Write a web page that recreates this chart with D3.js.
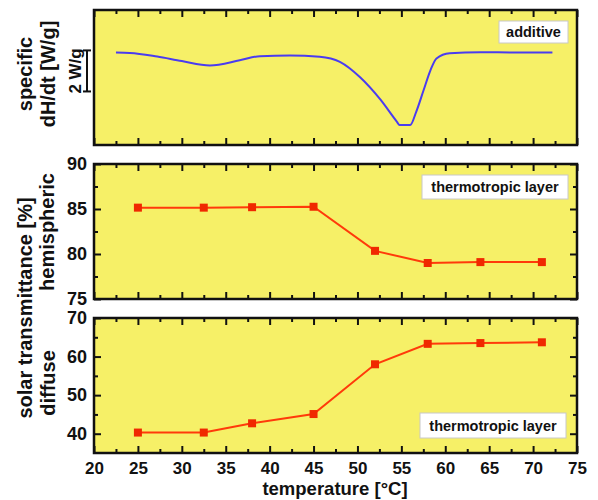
<!DOCTYPE html>
<html><head><meta charset="utf-8">
<script src="https://cdn.jsdelivr.net/npm/d3@7"></script>
<style>
html,body{margin:0;padding:0;background:#fff;}
text{font-family:"Liberation Sans",Arial,Helvetica,sans-serif;font-weight:bold;fill:#111;}
</style></head>
<body><svg id="c" width="598" height="500"></svg>
<script>
// ---- data ----
const xTicks = [20,25,30,35,40,45,50,55,60,65,70,75];
const temps = [25, 32.5, 38, 45, 52, 58, 64, 71];
const hemispheric = [85.15, 85.15, 85.2, 85.25, 80.35, 79.0, 79.1, 79.1];
const diffuse = [40.3, 40.3, 42.7, 45.1, 58.0, 63.3, 63.5, 63.7];
const hemiTicks = [75, 80, 85, 90];
const diffTicks = [40, 50, 60, 70];
const dscT = [22.5, 24.1, 27.2, 30, 33.2, 36.6, 38.9, 42.3, 45.7, 48.0, 50.3, 52.6, 54.5, 54.8, 56.0, 56.7, 57.5, 58.3, 59.0, 60.5, 64.0, 68, 72.2];
const dscV = [0, -0.02, -0.2, -0.42, -0.63, -0.38, -0.18, -0.15, -0.21, -0.46, -1.21, -2.29, -3.38, -3.54, -3.54, -2.88, -1.88, -0.88, -0.29, -0.04, 0.01, 0.0, 0.0];
const scaleBar = [0.1, -1.9]; // 2 W/g

const svg = d3.select("#c");
const L = 94, R = 577;
const x = d3.scaleLinear([20, 75], [L, R]);
const panels = [
  {top: 10, bottom: 145},
  {top: 164, bottom: 299},
  {top: 318, bottom: 453}
];
const y1 = d3.scaleLinear([-4.51, 2.07], [panels[0].bottom, panels[0].top]);
const y2 = d3.scaleLinear([75, 90], [panels[1].bottom, panels[1].top]);
const y3 = d3.scaleLinear([35, 70], [panels[2].bottom, panels[2].top]);

const YEL = "#f6f067";
const xMinor = d3.range(22.5, 75, 5);

function frame(p, yScale, yMaj, yMin, withY, lastX) {
  svg.append("rect").attr("x", L).attr("y", p.top).attr("width", R - L).attr("height", p.bottom - p.top).attr("fill", YEL);
  const tick = (g) => { g.select(".domain").remove(); g.selectAll("line").attr("stroke", "#111").attr("stroke-width", 2); };
  svg.append("g").attr("transform", `translate(0,${p.top})`).call(d3.axisTop(x).tickValues(xTicks).tickSize(-7).tickFormat("")).call(tick);
  svg.append("g").attr("transform", `translate(0,${p.top})`).call(d3.axisTop(x).tickValues(xMinor).tickSize(-4).tickFormat("")).call(tick);
  const bax = svg.append("g").attr("transform", `translate(0,${p.bottom})`).call(d3.axisBottom(x).tickValues(xTicks).tickSize(-7).tickPadding(9).tickFormat(lastX ? d3.format("d") : ""));
  bax.call(tick);
  bax.selectAll("text").attr("font-size", 17).style("font-family", "Liberation Sans, Arial, sans-serif").style("font-weight", "bold").attr("fill", "#111");
  svg.append("g").attr("transform", `translate(0,${p.bottom})`).call(d3.axisBottom(x).tickValues(xMinor).tickSize(-4).tickFormat("")).call(tick);
  if (withY) {
    const la = svg.append("g").attr("transform", `translate(${L},0)`).call(d3.axisLeft(yScale).tickValues(yMaj).tickSize(-7).tickPadding(7).tickFormat(d3.format("d")));
    la.call(tick);
    la.selectAll("text").attr("font-size", 18).style("font-family", "Liberation Sans, Arial, sans-serif").style("font-weight", "bold").attr("fill", "#111");
    svg.append("g").attr("transform", `translate(${L},0)`).call(d3.axisLeft(yScale).tickValues(yMin).tickSize(-4).tickFormat("")).call(tick);
    svg.append("g").attr("transform", `translate(${R},0)`).call(d3.axisRight(yScale).tickValues(yMaj).tickSize(-7).tickFormat("")).call(tick);
    svg.append("g").attr("transform", `translate(${R},0)`).call(d3.axisRight(yScale).tickValues(yMin).tickSize(-4).tickFormat("")).call(tick);
  }
}

frame(panels[0], y1, [], [], false, false);
frame(panels[1], y2, hemiTicks, [77.5, 82.5, 87.5], true, false);
frame(panels[2], y3, diffTicks, [45, 55, 65], true, true);

// DSC curve
const dscData = dscT.map((t, i) => [t, dscV[i]]);
svg.append("path").datum(dscData)
  .attr("d", d3.line().x(d => x(d[0])).y(d => y1(d[1])).curve(d3.curveMonotoneX))
  .attr("fill", "none").attr("stroke", "#4a3cf0").attr("stroke-width", 2);

// scale bar
const bx = L - 7;
svg.append("line").attr("x1", bx).attr("x2", bx).attr("y1", y1(scaleBar[0])).attr("y2", y1(scaleBar[1])).attr("stroke", "#111").attr("stroke-width", 2);
scaleBar.forEach(v => svg.append("line").attr("x1", bx - 4).attr("x2", bx + 4).attr("y1", y1(v)).attr("y2", y1(v)).attr("stroke", "#111").attr("stroke-width", 2));
svg.append("text").attr("transform", `translate(${bx - 12},${(y1(scaleBar[0]) + y1(scaleBar[1])) / 2}) rotate(-90)`)
  .attr("text-anchor", "middle").attr("dy", "0.35em").attr("font-size", 17).text("2 W/g");

// series
const RED = "#ff3a0a";
function series(vals, yScale) {
  const d = temps.map((t, i) => [t, vals[i]]);
  svg.append("path").datum(d).attr("d", d3.line().x(e => x(e[0])).y(e => yScale(e[1])))
    .attr("fill", "none").attr("stroke", RED).attr("stroke-width", 2);
  svg.append("g").selectAll("rect").data(d).join("rect")
    .attr("x", e => x(e[0]) - 4).attr("y", e => yScale(e[1]) - 4).attr("width", 8).attr("height", 8)
    .attr("fill", "#f02800");
}
series(hemispheric, y2);
series(diffuse, y3);

// borders
panels.forEach(p => svg.append("rect").attr("x", L).attr("y", p.top).attr("width", R - L).attr("height", p.bottom - p.top)
  .attr("fill", "none").attr("stroke", "#111").attr("stroke-width", 2.5));

// legend boxes
function box(x0, y0, w, h, label) {
  svg.append("rect").attr("x", x0).attr("y", y0).attr("width", w).attr("height", h).attr("fill", "#fff").attr("stroke", "#c8c8c8").attr("stroke-width", 1);
  svg.append("text").attr("x", x0 + w / 2).attr("y", y0 + h / 2).attr("dy", "0.35em").attr("text-anchor", "middle").attr("font-size", 14.5).text(label);
}
box(499, 21, 69, 22, "additive");
box(422, 175, 146, 24, "thermotropic layer");
box(420, 413, 146, 25, "thermotropic layer");

// axis titles
function vlabel(cx, cy, t, fs) {
  svg.append("text").attr("transform", `translate(${cx},${cy}) rotate(-90)`).attr("text-anchor", "middle").attr("dy", "0.35em").attr("font-size", fs).text(t);
}
vlabel(25, 74, "specific", 20);
vlabel(48, 74, "dH/dt [W/g]", 20);
vlabel(25, 308, "solar transmittance [%]", 20);
vlabel(47, 232, "hemispheric", 20);
vlabel(48, 383, "diffuse", 20);
svg.append("text").attr("x", 335).attr("y", 495).attr("text-anchor", "middle").attr("font-size", 18.5).text("temperature [°C]");
</script></body></html>
